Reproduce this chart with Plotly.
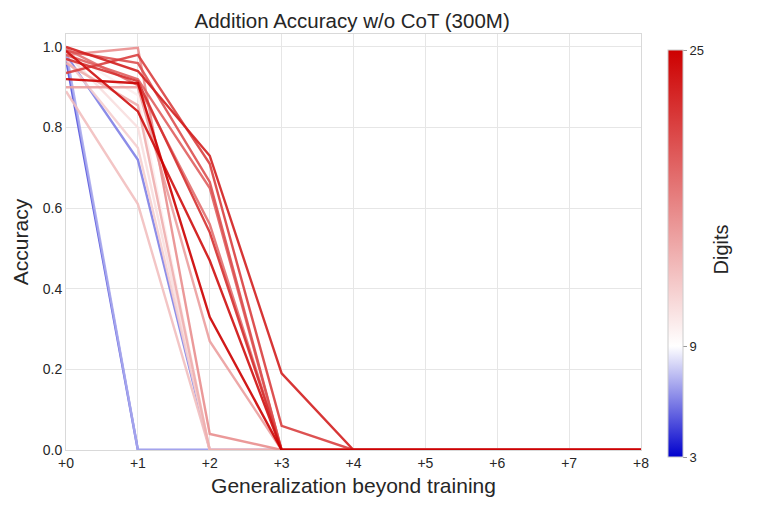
import plotly.graph_objects as go
from plotly.colors import sample_colorscale

# steps beyond the training length
steps = [0, 1, 2, 3, 4, 5, 6, 7, 8]
step_labels = ["+0", "+1", "+2", "+3", "+4", "+5", "+6", "+7", "+8"]

# training digits for each run and its accuracy at +0 ... +8
digits = [5, 6, 7, 10, 11, 12, 13, 14, 15, 16, 18, 19, 20, 21, 22, 23, 24, 25]
acc_5 = [0.97, 0.0, 0.0, 0.0, 0.0, 0.0, 0.0, 0.0, 0.0]
acc_6 = [0.98, 0.72, 0.0, 0.0, 0.0, 0.0, 0.0, 0.0, 0.0]
acc_7 = [0.99, 0.0, 0.0, 0.0, 0.0, 0.0, 0.0, 0.0, 0.0]
acc_10 = [0.99, 0.88, 0.0, 0.0, 0.0, 0.0, 0.0, 0.0, 0.0]
acc_11 = [0.985, 0.80, 0.0, 0.0, 0.0, 0.0, 0.0, 0.0, 0.0]
acc_12 = [0.97, 0.75, 0.0, 0.0, 0.0, 0.0, 0.0, 0.0, 0.0]
acc_13 = [0.89, 0.61, 0.0, 0.0, 0.0, 0.0, 0.0, 0.0, 0.0]
acc_14 = [0.96, 0.855, 0.0, 0.0, 0.0, 0.0, 0.0, 0.0, 0.0]
acc_15 = [0.90, 0.90, 0.27, 0.0, 0.0, 0.0, 0.0, 0.0, 0.0]
acc_16 = [0.98, 0.998, 0.04, 0.0, 0.0, 0.0, 0.0, 0.0, 0.0]
acc_18 = [0.995, 0.905, 0.56, 0.0, 0.0, 0.0, 0.0, 0.0, 0.0]
acc_19 = [0.98, 0.92, 0.65, 0.0, 0.0, 0.0, 0.0, 0.0, 0.0]
acc_20 = [0.99, 0.96, 0.665, 0.0, 0.0, 0.0, 0.0, 0.0, 0.0]
acc_21 = [0.935, 0.98, 0.71, 0.06, 0.0, 0.0, 0.0, 0.0, 0.0]
acc_22 = [0.97, 0.915, 0.54, 0.0, 0.0, 0.0, 0.0, 0.0, 0.0]
acc_23 = [1.0, 0.94, 0.73, 0.19, 0.0, 0.0, 0.0, 0.0, 0.0]
acc_24 = [0.99, 0.84, 0.47, 0.0, 0.0, 0.0, 0.0, 0.0, 0.0]
acc_25 = [0.92, 0.91, 0.33, 0.0, 0.0, 0.0, 0.0, 0.0, 0.0]
accs = [acc_5, acc_6, acc_7, acc_10, acc_11, acc_12, acc_13, acc_14, acc_15,
        acc_16, acc_18, acc_19, acc_20, acc_21, acc_22, acc_23, acc_24, acc_25]

cmin, cmax, cmid = 3, 25, 9
mid = (cmid - cmin) / (cmax - cmin)
scale = [[0.0, "rgb(0,0,205)"], [mid, "rgb(255,255,255)"], [1.0, "rgb(205,0,0)"]]

font = "Liberation Sans, Arial, sans-serif"
fig = go.Figure()

for d, a in zip(digits, accs):
    col = sample_colorscale(scale, [(d - cmin) / (cmax - cmin)])[0]
    fig.add_trace(go.Scatter(x=steps, y=a, mode="lines", line=dict(color=col, width=2.4),
                             opacity=0.9, showlegend=False, name=f"{d} digits"))

# colour bar only
fig.add_trace(go.Scatter(x=[None], y=[None], mode="markers", showlegend=False,
                         marker=dict(color=[cmin], cmin=cmin, cmax=cmax, colorscale=scale, showscale=True,
                                     colorbar=dict(tickvals=[3, 9, 25], ticks="outside", ticklen=4, tickcolor="#999",
                                                   tickfont=dict(size=13, color="#262626"),
                                                   thickness=15, len=407, lenmode="pixels", y=0.472, yanchor="middle",
                                                   ypad=0, xpad=0, x=1.047, xanchor="left",
                                                   outlinecolor="#cccccc", outlinewidth=1))))

# colour bar label, placed further out like the original
fig.add_annotation(text="Digits", xref="paper", yref="paper", x=1.161, y=0.481, textangle=-90,
                   showarrow=False, font=dict(size=20, color="#262626"))

fig.update_layout(
    width=753, height=500,
    margin=dict(l=56, r=120, t=26, b=58),
    paper_bgcolor="white", plot_bgcolor="white",
    font=dict(family=font, color="#262626"),
    title=dict(text="Addition Accuracy w/o CoT (300M)", x=0.457, xanchor="center", y=0.974, yanchor="middle",
               font=dict(size=20.5, color="#262626")),
    xaxis=dict(range=[0, 8], tickvals=steps, ticktext=step_labels, showgrid=True, gridcolor="#e6e6e6",
               zeroline=False, showline=True, linecolor="#d9d9d9", mirror=True,
               tickfont=dict(size=14), ticks="",
               title=dict(text="Generalization beyond training", font=dict(size=21), standoff=8)),
    yaxis=dict(range=[0, 1.032], tickvals=[0, 0.2, 0.4, 0.6, 0.8, 1.0], ticktext=["0.0", "0.2", "0.4", "0.6", "0.8", "1.0"],
               showgrid=True, gridcolor="#e6e6e6", zeroline=False, showline=True, linecolor="#d9d9d9", mirror=True,
               tickfont=dict(size=14), ticks="",
               title=dict(text="Accuracy", font=dict(size=21), standoff=8)),
)

fig.write_html("out.html")
